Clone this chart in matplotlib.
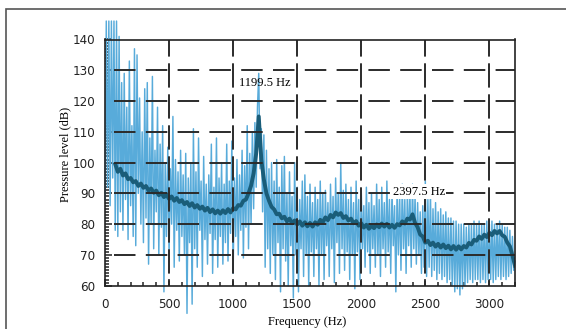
import matplotlib
matplotlib.use('Agg')
import matplotlib.pyplot as plt
from matplotlib.patches import Rectangle
from matplotlib.ticker import MultipleLocator

# raw spectrum (light blue), read every 10 Hz, one row per 100 Hz
raw_freq = list(range(0, 3201, 10))
raw_level = [
    88, 146, 92, 146, 86, 146, 95, 146, 78, 146,
    76, 141, 84, 126, 78, 129, 88, 118, 75, 133,
    86, 112, 76, 137, 73, 135, 90, 121, 80, 110,
    74, 124, 82, 126, 67, 108, 80, 128, 72, 104,
    84, 118, 70, 106, 79, 112, 58, 100, 76, 105,
    70, 98, 80, 115, 66, 101, 78, 97, 68, 104,
    76, 96, 70, 103, 51, 95, 74, 100, 54, 111,
    72, 97, 66, 108, 78, 94, 63, 102, 75, 93,
    67, 96, 77, 106, 64, 92, 75, 108, 66, 95,
    76, 100, 67, 93, 74, 106, 68, 94, 77, 107,
    64, 95, 76, 101, 70, 96, 78, 104, 69, 99,
    79, 112, 72, 103, 80, 110, 85, 113, 92, 118,
    129, 98, 111, 84, 109, 66, 104, 72, 98, 64,
    100, 70, 94, 62, 101, 74, 92, 58, 99, 72,
    102, 68, 90, 60, 97, 73, 89, 56, 100, 70,
    92, 58, 88, 72, 94, 63, 96, 70, 89, 60,
    93, 71, 87, 63, 92, 72, 88, 60, 94, 70,
    90, 62, 91, 73, 87, 63, 93, 72, 89, 61,
    95, 74, 90, 64, 100, 72, 91, 65, 93, 71,
    88, 62, 92, 70, 87, 59, 94, 71, 88, 62,
    91, 72, 86, 66, 92, 71, 87, 64, 90, 72,
    86, 66, 93, 70, 88, 63, 92, 72, 87, 66,
    94, 71, 88, 64, 91, 73, 86, 58, 92, 70,
    89, 65, 93, 72, 88, 64, 91, 73, 90, 66,
    93, 72, 89, 67, 87, 70, 84, 64, 86, 66,
    94, 63, 88, 66, 90, 63, 85, 65, 87, 62,
    84, 64, 85, 62, 83, 63, 84, 61, 82, 62,
    82, 60, 81, 58, 81, 59, 80, 57, 80, 59,
    80, 60, 79, 61, 80, 62, 80, 61, 81, 62,
    80, 62, 81, 61, 80, 62, 80, 61, 81, 62,
    80, 62, 81, 61, 80, 62, 80, 63, 81, 62,
    80, 63, 79, 62, 79, 63, 78, 64, 76, 65,
    68,
]

# averaged spectrum (dark line)
avg_freq = list(range(80, 1181, 20)) + [1190, 1200, 1210] + list(range(1220, 3201, 20))
avg_level = [
    99.5, 97.0, 98.0, 95.8, 96.5, 94.6, 95.0, 93.6, 94.0, 92.4,
    93.2, 91.8, 92.4, 90.9, 91.6, 90.2, 90.9, 89.4, 90.2, 88.8,
    89.6, 88.2, 89.0, 87.6, 88.5, 87.2, 87.8, 86.5, 87.2, 85.9,
    86.8, 85.4, 86.2, 85.0, 85.7, 84.4, 85.3, 83.9, 84.8, 83.5,
    84.4, 83.4, 84.5, 83.6, 84.9, 83.8, 85.2, 84.8, 86.2, 86.0,
    87.6, 88.0, 90.0, 92.5, 96.5, 103.0,
    109.0, 115.0, 108.0,
    101.0, 94.5, 90.0, 87.6, 85.6, 84.8, 83.2, 83.4, 81.9, 82.4,
    80.9, 81.8, 80.3, 81.2, 79.9, 80.9, 79.5, 80.6, 79.3, 80.4,
    79.2, 80.6, 79.8, 81.4, 80.6, 82.2, 81.3, 83.0, 82.2, 83.8,
    83.0, 83.6, 82.0, 82.6, 81.2, 81.8, 80.3, 81.0, 79.5, 80.3,
    78.9, 79.8, 78.5, 79.5, 78.7, 79.9, 79.0, 80.2, 79.2, 80.1,
    78.9, 79.8, 78.8, 80.0, 79.6, 80.9, 80.2, 81.8, 81.5, 83.2,
    80.4, 79.0, 76.6, 76.0, 74.0, 74.6, 73.2, 74.0, 72.7, 73.6,
    72.4, 73.4, 72.2, 73.0, 71.8, 72.9, 71.7, 72.8, 71.8, 72.9,
    72.4, 73.9, 73.4, 74.9, 74.6, 76.0, 75.2, 76.6, 75.8, 77.2,
    76.4, 77.8, 77.0, 77.8, 76.4, 75.9, 74.0, 72.8, 69.8, 66.5,
]

peak_labels = ['1199.5 Hz', '2397.5 Hz']

W, H = 566, 329
fig = plt.figure(figsize=(W / 100, H / 100), dpi=100)
ax = fig.add_axes([105 / W, 1 - 285.7 / H, 410 / W, 246.2 / H])

ax.plot(raw_freq, raw_level, color='#58abda', lw=1.05, clip_on=False, zorder=2)
ax.plot(avg_freq, avg_level, color='#1a5d79', lw=2.8, zorder=3)

ax.set_xlim(0, 3200)
ax.set_ylim(60, 140)

grid_col = '#2b2b2b'
px = 0.72
for y in range(70, 140, 10):
    ax.axhline(y, color=grid_col, lw=1.4, zorder=4,
               linestyle=(22.8 * px / 1.4, (21.5 * px / 1.4, 10.3 * px / 1.4)))
for x in range(500, 3200, 500):
    ax.axvline(x, color=grid_col, lw=1.4, zorder=4,
               linestyle=(18.6 * px / 1.4, (24.3 * px / 1.4, 6.7 * px / 1.4)))

ax.xaxis.set_major_locator(MultipleLocator(500))
ax.xaxis.set_minor_locator(MultipleLocator(100))
ax.yaxis.set_major_locator(MultipleLocator(10))
ax.yaxis.set_minor_locator(MultipleLocator(1))

ax.tick_params(which='both', direction='in', top=False, right=False,
               color='#222222', width=1.1)
ax.tick_params(which='major', length=5)
ax.tick_params(which='minor', length=3)
ax.tick_params(axis='x', pad=9)
ax.tick_params(axis='y', pad=7)
for lab in ax.get_xticklabels() + ax.get_yticklabels():
    lab.set_family('DejaVu Sans')
    lab.set_stretch('condensed')
    lab.set_fontsize(9.5)
    lab.set_color('#222222')

for sp in ax.spines.values():
    sp.set_linewidth(1.2)
    sp.set_color('#222222')
    sp.set_zorder(5)

serif = 'Liberation Serif'
ax.text(1048, 126.0, peak_labels[0], family=serif, fontsize=9, va='center', ha='left', zorder=6)
ax.text(2246, 90.5, peak_labels[1], family=serif, fontsize=9, va='center', ha='left', zorder=6,
        bbox=dict(facecolor='white', edgecolor='none', pad=1.0))

fig.text(307 / W, 1 - 322 / H, 'Frequency (Hz)', family=serif, fontsize=9,
         ha='center', va='center')
fig.text(65 / W, 1 - 154 / H, 'Pressure level (dB)', family=serif, fontsize=9,
         ha='center', va='center', rotation=90)

fig.add_artist(Rectangle((6 / W, -0.05), 1.0, 1.05 - 9 / H, transform=fig.transFigure,
                         fill=False, edgecolor='#555555', lw=1.2, clip_on=False))

fig.savefig('out.png', dpi=100)
